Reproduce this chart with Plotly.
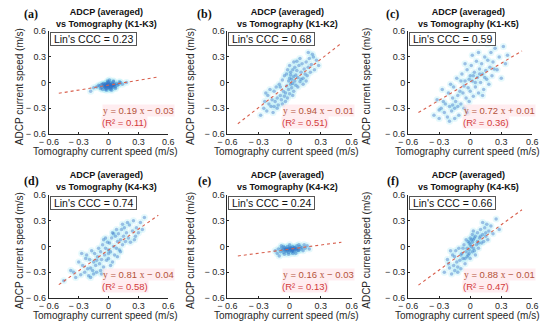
import plotly.graph_objects as go

# ---------------- data ----------------
panel_letters = ["(a)", "(b)", "(c)", "(d)", "(e)", "(f)"]
pair_names = ["K1-K3", "K1-K2", "K1-K5", "K4-K3", "K4-K2", "K4-K5"]
ccc_values = [0.23, 0.68, 0.59, 0.74, 0.24, 0.66]
fit_slopes = [0.19, 0.94, 0.72, 0.81, 0.16, 0.88]
fit_intercepts = [-0.03, -0.01, 0.01, -0.04, -0.03, -0.01]
r2_values = [0.11, 0.51, 0.36, 0.58, 0.13, 0.47]
fit_x = [-0.5, 0.5]
tick_values = [-0.6, -0.3, 0, 0.3, 0.6]
tick_labels = ["\u2212 0.6", "\u2212 0.3", "0", "0.3", "0.6"]

x_a = [-0.12, -0.09, -0.07, -0.06, -0.05, -0.05, -0.04, -0.04, -0.03, -0.03,
       -0.03, -0.02, -0.02, -0.02, -0.01, -0.01, -0.01, 0.00, 0.00, 0.00,
       0.00, 0.01, 0.01, 0.01, 0.02, 0.02, 0.02, 0.03, 0.03, 0.04,
       0.04, 0.05, 0.05, 0.06, 0.07, 0.08, 0.10, 0.12, -0.08, -0.06,
       0.03, -0.01, 0.06, -0.04, 0.09, -0.10, 0.11, 0.14, -0.15, 0.02,
       0.00, -0.02, 0.05, -0.07, 0.07, 0.01, -0.03, 0.04, 0.18, -0.18,
       -0.015, 0.005, 0.025, -0.035, 0.045, -0.005, 0.015, -0.025, 0.035, 0.055]
y_a = [-0.05, -0.04, -0.06, -0.02, -0.04, -0.01, -0.05, -0.03, -0.02, -0.06,
       -0.04, -0.03, -0.01, -0.07, -0.04, -0.02, 0.00, -0.03, -0.05, -0.01,
       -0.06, -0.02, -0.04, -0.07, -0.03, 0.00, -0.05, -0.02, -0.06, -0.01,
       -0.04, -0.03, 0.01, -0.02, -0.05, -0.01, -0.02, 0.00, -0.07, -0.08,
       -0.09, 0.02, -0.04, -0.05, -0.03, -0.03, 0.01, -0.02, -0.06, -0.08,
       0.01, -0.09, 0.02, -0.02, -0.07, 0.03, -0.08, -0.06, 0.00, -0.10,
       -0.035, -0.025, -0.045, -0.015, -0.035, -0.055, -0.015, -0.045, -0.035, -0.025]

x_b = [-0.28, -0.25, -0.23, -0.22, -0.20, -0.19, -0.18, -0.17, -0.16, -0.15,
       -0.14, -0.13, -0.12, -0.11, -0.10, -0.09, -0.08, -0.07, -0.06, -0.05,
       -0.05, -0.04, -0.03, -0.03, -0.02, -0.01, -0.01, 0.00, 0.00, 0.01,
       0.01, 0.02, 0.02, 0.03, 0.03, 0.04, 0.04, 0.05, 0.05, 0.06,
       0.06, 0.07, 0.08, 0.09, 0.10, 0.11, 0.12, 0.13, 0.14, 0.15,
       0.16, 0.17, 0.18, 0.19, 0.20, 0.21, 0.22, 0.24, 0.26, 0.28,
       -0.21, -0.12, -0.07, -0.02, 0.00, 0.03, 0.07, 0.10, 0.13, 0.18,
       -0.24, -0.15, -0.09, -0.04, 0.01, 0.04, 0.08, 0.11, 0.16, 0.23]
y_b = [-0.38, -0.30, -0.12, -0.33, -0.25, -0.08, -0.28, -0.20, -0.35, -0.10,
       -0.22, -0.05, -0.18, -0.26, -0.02, -0.15, -0.20, 0.03, -0.10, -0.16,
       0.08, -0.12, -0.04, 0.10, -0.18, 0.02, -0.08, 0.05, -0.13, -0.02,
       0.12, -0.06, 0.04, 0.15, -0.01, 0.07, -0.10, 0.18, 0.02, 0.09,
       -0.03, 0.14, 0.06, 0.20, 0.01, 0.12, 0.22, 0.05, 0.16, 0.10,
       0.24, 0.08, 0.18, 0.28, 0.12, 0.21, 0.33, 0.15, 0.26, 0.20,
       -0.15, -0.30, -0.25, 0.15, 0.20, -0.15, 0.25, 0.28, -0.02, 0.35,
       -0.22, -0.28, -0.05, -0.22, 0.09, 0.24, -0.05, 0.04, 0.02, 0.30]

x_c = [-0.35, -0.32, -0.30, -0.28, -0.27, -0.25, -0.24, -0.22, -0.21, -0.20,
       -0.19, -0.18, -0.17, -0.16, -0.15, -0.14, -0.13, -0.12, -0.11, -0.10,
       -0.09, -0.08, -0.07, -0.06, -0.05, -0.04, -0.03, -0.02, -0.01, 0.00,
       0.00, 0.01, 0.02, 0.03, 0.04, 0.05, 0.06, 0.07, 0.08, 0.09,
       0.10, 0.11, 0.12, 0.13, 0.14, 0.15, 0.16, 0.17, 0.18, 0.19,
       0.20, 0.21, 0.22, 0.24, 0.26, 0.28, 0.30, 0.32, 0.34, 0.36,
       -0.26, -0.15, -0.09, -0.03, 0.02, 0.05, 0.08, 0.12, -0.05, 0.14,
       -0.30, -0.20, -0.12, -0.06, -0.01, 0.03, 0.09, 0.17, 0.23, -0.17]
y_c = [-0.38, -0.20, -0.42, -0.30, -0.08, -0.35, -0.25, -0.40, -0.12, -0.28,
       -0.02, -0.33, -0.18, -0.05, -0.30, -0.22, 0.05, -0.15, -0.38, -0.10,
       -0.25, 0.10, -0.12, -0.30, 0.02, -0.18, 0.15, -0.06, -0.22, 0.08,
       -0.10, 0.20, 0.02, -0.16, 0.12, -0.05, 0.25, 0.06, -0.12, 0.16,
       0.00, 0.22, 0.10, -0.08, 0.30, 0.14, 0.04, 0.26, -0.02, 0.18,
       0.35, 0.08, 0.24, 0.40, 0.15, 0.30, 0.05, 0.42, 0.22, 0.32,
       -0.22, -0.42, 0.02, -0.35, 0.32, 0.00, 0.35, -0.15, 0.22, 0.06,
       -0.32, -0.45, -0.28, -0.04, 0.04, 0.08, 0.10, 0.45, 0.16, -0.26]

x_d = [-0.45, -0.38, -0.33, -0.30, -0.28, -0.26, -0.24, -0.22, -0.21, -0.20,
       -0.19, -0.18, -0.17, -0.16, -0.15, -0.14, -0.13, -0.12, -0.11, -0.10,
       -0.09, -0.08, -0.07, -0.06, -0.05, -0.04, -0.03, -0.02, -0.01, 0.00,
       0.00, 0.01, 0.02, 0.03, 0.04, 0.05, 0.06, 0.07, 0.08, 0.09,
       0.10, 0.11, 0.12, 0.13, 0.14, 0.15, 0.16, 0.17, 0.18, 0.20,
       0.21, 0.22, 0.24, 0.25, 0.27, 0.28, 0.30, 0.32, 0.34, 0.36,
       -0.35, -0.23, -0.15, -0.08, -0.03, 0.02, 0.05, 0.09, 0.14, 0.19,
       -0.27, -0.18, -0.12, -0.05, 0.00, 0.04, 0.08, 0.12, -0.07, 0.26]
y_d = [-0.40, -0.28, -0.36, -0.18, -0.33, -0.22, -0.30, -0.10, -0.26, -0.34,
       -0.15, -0.25, -0.05, -0.28, -0.18, -0.08, -0.22, -0.30, -0.12, -0.02,
       -0.20, -0.06, -0.15, 0.02, -0.24, -0.10, -0.02, -0.16, 0.05, -0.08,
       -0.14, 0.04, -0.06, 0.10, -0.18, 0.00, -0.10, 0.12, -0.02, 0.06,
       0.15, -0.04, 0.08, 0.20, 0.02, 0.12, 0.22, 0.06, 0.16, 0.10,
       0.25, 0.05, 0.18, 0.30, 0.12, 0.22, 0.16, 0.28, 0.20, 0.34,
       -0.30, -0.14, -0.32, -0.28, 0.10, -0.22, 0.15, -0.12, 0.26, 0.28,
       -0.08, -0.36, -0.16, 0.08, -0.04, 0.16, 0.20, -0.06, -0.32, 0.08]

x_e = [-0.14, -0.11, -0.09, -0.08, -0.07, -0.06, -0.05, -0.04, -0.04, -0.03,
       -0.03, -0.02, -0.02, -0.01, -0.01, 0.00, 0.00, 0.01, 0.01, 0.02,
       0.02, 0.03, 0.03, 0.04, 0.04, 0.05, 0.05, 0.06, 0.07, 0.07,
       0.08, 0.09, 0.10, 0.11, 0.12, 0.13, 0.15, 0.17, 0.19, -0.12,
       -0.10, -0.08, 0.00, 0.06, -0.05, 0.09, 0.14, -0.01, 0.03, -0.06,
       -0.015, 0.005, 0.025, 0.045, -0.035, 0.065, 0.085, -0.055, 0.015, 0.035]
y_e = [-0.05, -0.03, -0.06, -0.02, -0.04, -0.07, -0.01, -0.05, -0.03, -0.02,
       -0.06, -0.04, 0.00, -0.03, -0.07, -0.05, -0.01, -0.04, -0.02, -0.06,
       -0.03, 0.00, -0.05, -0.02, -0.06, -0.01, -0.04, -0.03, 0.01, -0.05,
       -0.02, -0.04, 0.00, -0.03, -0.01, -0.05, -0.02, 0.01, -0.03, -0.08,
       -0.11, 0.01, 0.02, -0.08, -0.09, 0.02, 0.02, -0.09, -0.08, 0.00,
       -0.035, -0.025, -0.045, -0.015, -0.035, -0.025, -0.045, -0.035, -0.015, -0.035]

x_f = [-0.25, -0.22, -0.20, -0.18, -0.17, -0.16, -0.15, -0.14, -0.13, -0.12,
       -0.11, -0.10, -0.09, -0.08, -0.07, -0.06, -0.05, -0.04, -0.03, -0.02,
       -0.02, -0.01, -0.01, 0.00, 0.00, 0.01, 0.01, 0.02, 0.02, 0.03,
       0.03, 0.04, 0.05, 0.06, 0.07, 0.08, 0.09, 0.10, 0.11, 0.12,
       0.13, 0.14, 0.15, 0.16, 0.17, 0.18, 0.20, 0.22, 0.25, 0.28,
       -0.19, -0.12, -0.07, -0.04, 0.00, 0.03, 0.05, 0.08, 0.12, -0.15,
       -0.21, -0.09, -0.05, -0.01, 0.02, 0.04, 0.07, 0.10, -0.03, 0.15]
y_f = [-0.30, -0.15, -0.25, -0.32, -0.10, -0.22, -0.28, -0.05, -0.18, -0.24,
       -0.02, -0.16, -0.26, -0.08, -0.14, 0.02, -0.20, -0.06, -0.12, 0.06,
       -0.10, 0.04, -0.04, 0.10, -0.14, 0.00, 0.08, -0.06, 0.14, -0.02,
       0.08, -0.05, 0.12, 0.02, 0.16, -0.02, 0.10, 0.20, 0.04, 0.14,
       0.06, 0.22, 0.12, 0.26, 0.08, 0.18, 0.24, 0.15, 0.32, 0.20,
       -0.05, -0.30, -0.02, 0.08, 0.02, 0.18, -0.10, 0.04, 0.28, -0.12,
       -0.20, -0.10, -0.14, -0.08, 0.05, 0.10, 0.06, 0.12, -0.02, 0.16]

xs = [x_a, x_b, x_c, x_d, x_e, x_f]
ys = [y_a, y_b, y_c, y_d, y_e, y_f]

# ---------------- layout geometry (pixels) ----------------
W, H = 550, 334
col_px = [(40, 163), (224, 352), (410, 538)]
row_px = [(27, 133), (196, 302)]
ytitle_px = [10, 186, 367]
label_px = [22, 200, 394]
title_top_px = [0, 168]
font_sans = "Liberation Sans, Arial, sans-serif"
font_serif = "Liberation Serif, Times New Roman, serif"
text_col = "#262626"


def fx(px):
    return px / W


def fy(py):
    return 1 - py / H


fig = go.Figure()
annotations = []

for i in range(6):
    r, c = divmod(i, 3)
    n = "" if i == 0 else str(i + 1)
    xa, ya = "x" + n, "y" + n
    x0, x1 = col_px[c]
    y0, y1 = row_px[r]

    # halo (density glow)
    fig.add_trace(go.Scatter(
        x=xs[i], y=ys[i], mode="markers", xaxis=xa, yaxis=ya,
        marker=dict(size=7, color="#8ee2f3", opacity=0.22, line=dict(width=0)),
        hoverinfo="skip", showlegend=False))
    # points
    fig.add_trace(go.Scatter(
        x=xs[i], y=ys[i], mode="markers", xaxis=xa, yaxis=ya,
        marker=dict(size=3.5, color="#2f6fc6", opacity=0.42,
                    line=dict(width=0)),
        showlegend=False))
    # fit line
    line_y = [fit_slopes[i] * v + fit_intercepts[i] for v in fit_x]
    fig.add_trace(go.Scatter(
        x=fit_x, y=line_y, mode="lines", xaxis=xa, yaxis=ya,
        line=dict(color="#d8604e", width=1.1, dash="dot"),
        showlegend=False))

    axis_common = dict(
        range=[-0.6, 0.6], tickvals=tick_values, ticktext=tick_labels,
        showgrid=False, zeroline=False, showline=True, linecolor=text_col,
        linewidth=1, ticks="inside", ticklen=2, tickcolor=text_col,
        tickfont=dict(family=font_sans, size=9, color=text_col),
        fixedrange=True)
    fig.layout["xaxis" + n] = dict(axis_common, domain=[fx(x0), fx(x1)],
                                   anchor=ya, ticklabelstandoff=-1)
    fig.layout["yaxis" + n] = dict(axis_common, domain=[fy(y1), fy(y0)],
                                   anchor=xa)

    cx = (x0 + x1) / 2
    # title
    annotations.append(dict(
        x=fx(cx - 2), y=fy(title_top_px[r]), xref="paper", yref="paper",
        xanchor="center", yanchor="top", showarrow=False, align="center",
        text="<b>ADCP (averaged)</b><br><b>vs Tomography (%s)</b>" % pair_names[i],
        font=dict(family=font_sans, size=9, color="#111111")))
    # panel letter
    annotations.append(dict(
        x=fx(label_px[c]), y=fy(9 + r * 172), xref="paper", yref="paper",
        xanchor="center", yanchor="middle", showarrow=False,
        text="<b>%s</b>" % panel_letters[i],
        font=dict(family=font_serif, size=12, color="#111111")))
    # y title
    annotations.append(dict(
        x=fx(ytitle_px[c]), y=fy((y0 + y1) / 2 + 4), xref="paper", yref="paper",
        xanchor="center", yanchor="middle", showarrow=False, textangle=-90,
        text="ADCP current speed (m/s)",
        font=dict(family=font_sans, size=10, color=text_col)))
    # x title
    annotations.append(dict(
        x=fx(cx - 3), y=fy(y1 + 18.5), xref="paper", yref="paper",
        xanchor="center", yanchor="middle", showarrow=False,
        text="Tomography current speed (m/s)",
        font=dict(family=font_sans, size=10, color=text_col)))
    # Lin's CCC box
    annotations.append(dict(
        x=fx(x0 + 1), y=fy(y0 + 1), xref="paper", yref="paper",
        xanchor="left", yanchor="top", showarrow=False,
        text=" Lin's CCC = %.2f " % ccc_values[i],
        bgcolor="white", bordercolor="#555555", borderwidth=1, borderpad=0,
        font=dict(family=font_sans, size=10.5, color="#111111")))
    # equation
    b = fit_intercepts[i]
    sign = "+" if b >= 0 else "\u2212"
    eq = ("<span style='font-family:Liberation Serif'>y</span> = %.2f "
          "<span style='font-family:Liberation Serif'>x</span> %s %.2f"
          % (fit_slopes[i], sign, abs(b)))
    annotations.append(dict(
        x=-0.07, y=-0.33, xref=xa, yref=ya, xanchor="left", yanchor="middle",
        showarrow=False, text=eq, bgcolor="rgba(255,214,222,0.45)", borderpad=0,
        font=dict(family=font_sans, size=9.5, color="#b4533a")))
    annotations.append(dict(
        x=-0.08, y=-0.465, xref=xa, yref=ya, xanchor="left", yanchor="middle",
        showarrow=False, text="(R\u00b2 = %.2f)" % r2_values[i],
        bgcolor="rgba(255,214,222,0.45)", borderpad=0,
        font=dict(family=font_sans, size=9.5, color="#d23a3a")))

fig.update_layout(
    width=W, height=H, margin=dict(l=0, r=0, t=0, b=0),
    paper_bgcolor="white", plot_bgcolor="white",
    showlegend=False, annotations=annotations,
    font=dict(family=font_sans))

fig.write_html("out.html", config={"displayModeBar": False},
               post_script="document.body.style.margin='0';")
